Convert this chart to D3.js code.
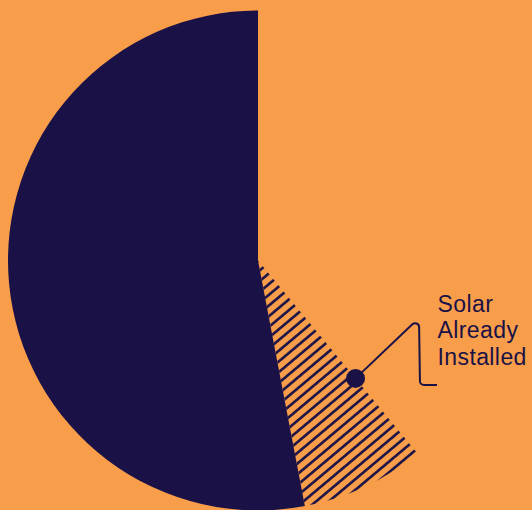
<!DOCTYPE html>
<html>
<head>
<meta charset="utf-8">
<script src="https://cdn.jsdelivr.net/npm/d3@7"></script>
<style>
  html, body { margin: 0; padding: 0; background: #f89e4b; }
  svg { display: block; }
</style>
</head>
<body>
<svg id="chart" width="532" height="510"></svg>
<script>
// ---- data ----
const categories = ["Other", "Solar Already Installed", "No Solar"];
const values = [39, 8, 53];
const labelLines = ["Solar", "Already", "Installed"];

// ---- setup ----
const W = 532, H = 510;
const cx = 258, cy = 260.5, R = 250;
const bg = "#f89e4b", navy = "#1a1246";

const svg = d3.select("#chart");
svg.append("rect").attr("width", W).attr("height", H).attr("fill", bg);

const defs = svg.append("defs");
const pat = defs.append("pattern")
  .attr("id", "hatch")
  .attr("patternUnits", "userSpaceOnUse")
  .attr("width", 20).attr("height", 8.2)
  .attr("patternTransform", "translate(" + cx + "," + cy + ") rotate(-40)");
pat.append("rect").attr("width", 20).attr("height", 8.2).attr("fill", bg);
pat.append("line")
  .attr("x1", -1).attr("x2", 21).attr("y1", 4.1).attr("y2", 4.1)
  .attr("stroke", navy).attr("stroke-width", 2.6);

const pie = d3.pie().sort(null).value(d => d.value);
const arcs = pie(categories.map((c, i) => ({ name: c, value: values[i] })));
const arc = d3.arc().innerRadius(0).outerRadius(R);

const fills = [bg, "url(#hatch)", navy];
const g = svg.append("g").attr("transform", `translate(${cx},${cy})`);
g.selectAll("path.slice")
  .data(arcs)
  .join("path")
  .attr("class", "slice")
  .attr("d", arc)
  .attr("fill", (d, i) => fills[i]);

// ---- annotation ----
const solar = arcs[1];
const dot = d3.pointRadial(solar.startAngle, R * 0.612);
const corner1 = [419 - cx, 318 - cy];
const corner2 = [420 - cx, 385 - cy];
const endPt = [437 - cx, 385 - cy];

const rr = 4;
function roundedPath(pts, r) {
  let p = d3.path();
  p.moveTo(pts[0][0], pts[0][1]);
  for (let i = 1; i < pts.length - 1; i++) {
    p.arcTo(pts[i][0], pts[i][1], pts[i + 1][0], pts[i + 1][1], r);
  }
  p.lineTo(pts[pts.length - 1][0], pts[pts.length - 1][1]);
  return p.toString();
}
g.append("path")
  .attr("d", roundedPath([dot, corner1, corner2, endPt], rr))
  .attr("fill", "none")
  .attr("stroke", navy)
  .attr("stroke-width", 2);

g.append("circle")
  .attr("cx", dot[0]).attr("cy", dot[1]).attr("r", 9.5)
  .attr("fill", navy);

const txt = svg.append("text")
  .attr("x", 437.5)
  .attr("y", 311.7)
  .attr("fill", navy)
  .style("font-family", "'Liberation Sans', Arial, sans-serif")
  .style("font-size", "23px")
  .style("letter-spacing", "0.4px");
txt.selectAll("tspan")
  .data(labelLines)
  .join("tspan")
  .attr("x", 437.5)
  .attr("dy", (d, i) => i === 0 ? 0 : 26.5)
  .text(d => d);
</script>
</body>
</html>
